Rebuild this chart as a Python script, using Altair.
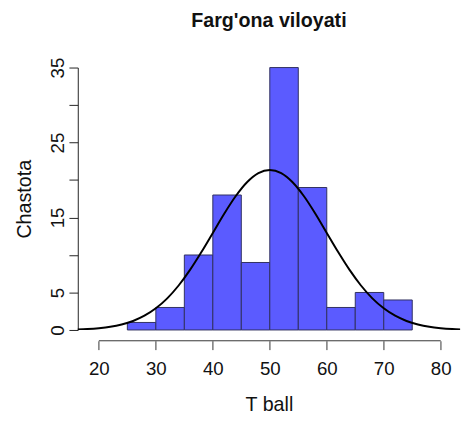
import altair as alt
import pandas as pd

# Histogram bins (T ball) and counts (Chastota)
bin_start = [25, 30, 35, 40, 45, 50, 55, 60, 65, 70]
bin_end = [30, 35, 40, 45, 50, 55, 60, 65, 70, 75]
counts = [1, 3, 10, 18, 9, 35, 19, 3, 5, 4]

# Fitted normal curve
curve_x = [16, 18, 20, 22, 24, 26, 28, 30, 32, 34, 36, 38, 40, 42, 44, 46, 48, 50,
           52, 54, 56, 58, 60, 62, 64, 66, 68, 70, 72, 74, 76, 78, 80, 82, 84]
curve_y = [0.07, 0.13, 0.24, 0.42, 0.73, 1.20, 1.90, 2.89, 4.22, 5.93, 8.01, 10.39,
           12.94, 15.50, 17.83, 19.70, 20.92, 21.34, 20.92, 19.70, 17.83, 15.50,
           12.94, 10.39, 8.01, 5.93, 4.22, 2.89, 1.90, 1.20, 0.73, 0.42, 0.24, 0.13, 0.07]

x_ticks = [20, 30, 40, 50, 60, 70, 80]
y_ticks = [0, 5, 10, 15, 20, 25, 30, 35]
y_labels_shown = [0, 5, 15, 25, 35]

W, H = 389, 267
FONT = "Liberation Sans"

hist = pd.DataFrame({"x": bin_start, "x2": bin_end, "count": counts})
curve = pd.DataFrame({"x": curve_x, "y": curve_y})
axis_line = pd.DataFrame({"x": [x_ticks[0]], "x2": [x_ticks[-1]]})

xscale = alt.Scale(domain=[16.3, 83.4], nice=False, zero=False)
yscale = alt.Scale(domain=[0, 35], nice=False)

label_expr = "indexof([" + ",".join(str(v) for v in y_labels_shown) + "], datum.value) >= 0 ? datum.label : ''"

xaxis = alt.Axis(title="T ball", values=x_ticks, domain=False, offset=11,
                 tickSize=9, tickColor="#333333", tickWidth=1,
                 labelFont=FONT, labelFontSize=19, labelColor="#111111",
                 labelPadding=10, titleFont=FONT, titleFontSize=20,
                 titleFontWeight="normal", titleColor="#111111",
                 titlePadding=17, grid=False, labelOverlap=False)
yaxis = alt.Axis(title="Chastota", values=y_ticks, labelExpr=label_expr,
                 domainColor="#222222", tickColor="#222222", tickSize=9,
                 labelAngle=-90, labelAlign="center", labelBaseline="bottom",
                 labelFont=FONT, labelFontSize=19, labelColor="#111111",
                 labelPadding=2, titleFont=FONT, titleFontSize=20,
                 titleFontWeight="normal", titleColor="#111111",
                 titlePadding=14, grid=False, labelOverlap=False)

bars = alt.Chart(hist).mark_rect(
    fill="#5b5bff", stroke="#303060", strokeWidth=1
).encode(
    x=alt.X("x:Q", scale=xscale, axis=xaxis),
    x2="x2:Q",
    y=alt.Y("count:Q", scale=yscale, axis=yaxis),
    y2=alt.datum(0),
)

line = alt.Chart(curve).mark_line(
    color="black", strokeWidth=2, interpolate="monotone", clip=True
).encode(
    x=alt.X("x:Q", scale=xscale, axis=xaxis),
    y=alt.Y("y:Q", scale=yscale, axis=yaxis),
)

xaxis_rule = alt.Chart(axis_line).mark_rule(color="#333333", strokeWidth=1, clip=False).encode(
    x=alt.X("x:Q", scale=xscale, axis=xaxis),
    x2="x2:Q",
    y=alt.value(H + 11),
)

chart = alt.layer(bars, line, xaxis_rule).properties(
    width=W,
    height=H,
    title=alt.TitleParams("Farg'ona viloyati", font=FONT, fontSize=20, fontWeight="bold",
                          color="#111111", anchor="middle", frame="group", offset=27),
    autosize=alt.AutoSizeParams(type="none"),
    padding={"left": 71, "top": 57, "right": 6, "bottom": 87},
).configure(background="white", view=alt.ViewConfig(stroke="transparent", strokeWidth=0))

chart.save("out.html", embed_options={"renderer": "svg", "actions": False})
